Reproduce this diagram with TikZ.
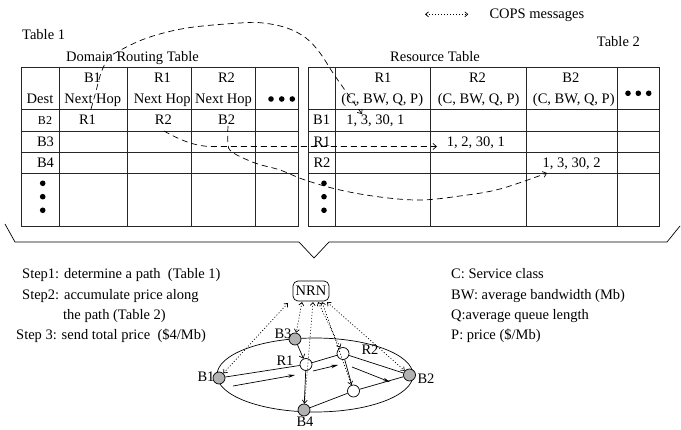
\documentclass[tikz,border=0pt]{standalone}
\usepackage{fontspec}
\setmainfont{Liberation Serif}
\usetikzlibrary{arrows.meta}
\begin{document}
\begin{tikzpicture}[x=1pt,y=-1pt,
  every node/.style={font=\fontsize{14.5}{17}\selectfont, inner sep=0pt},
  txt/.style={anchor=base},
  tbl/.style={line width=0.8pt, draw=black!85},
  bigdot/.style={circle, fill=black, minimum size=5.6pt, inner sep=0pt},
  gnode/.style={circle, draw, fill=gray!60, minimum size=12pt, inner sep=0pt, line width=0.7pt},
  wnode/.style={circle, draw, fill=white, minimum size=12pt, inner sep=0pt, line width=0.7pt},
  link/.style={line width=0.7pt},
  flow/.style={line width=0.7pt, -{Stealth[length=7pt,width=3.5pt]}},
  cops/.style={line width=0.7pt, dash pattern=on 1pt off 2pt, {Straight Barb[length=3pt,width=5pt]}-{Straight Barb[length=3pt,width=5pt]}},
  dpath/.style={line width=0.7pt, dash pattern=on 6pt off 4pt, -{Straight Barb[length=3.5pt,width=6pt]}},
]
\useasboundingbox (0,0) rectangle (681,430);

% ---------- legend ----------
\coordinate (cl) at (425,14.3);
\coordinate (cr) at (468.3,14.3);
\draw[cops] (cl) -- (cr);
\node[txt, anchor=base west] (copsl) at (489.3,19) {COPS messages};

% ---------- table 1 ----------
\node[txt, anchor=base west] (tab1) at (22,40) {Table 1};
\node[txt] (drt) at (132.5,62) {Domain Routing Table};
\draw[tbl] (21.7,67) rectangle (298,226.5);
\foreach \x in {59,127.3,191.7,255.7} \draw[tbl] (\x,67) -- (\x,226.5);
\foreach \y in {109.5,131,152.5,173.3} \draw[tbl] (21.7,\y) -- (298,\y);
\node[txt] (ha) at (92.5,83) {B1};
\node[txt] (hb) at (162.5,83) {R1};
\node[txt] (hc) at (226.5,83) {R2};
\node[txt] (dest) at (40,104) {Dest};
\node[txt] (nha) at (92.8,104) {Next Hop};
\node[txt] (nhb) at (162.2,104) {Next Hop};
\node[txt] (nhc) at (223.5,104) {Next Hop};
\foreach \x [count=\i] in {271,281.7,292.3} \node[bigdot] (hd\i) at (\x,99) {};
\node[txt, font=\fontsize{12}{14}\selectfont] (rb2) at (45,125) {B2};
\node[txt] (rb3) at (45.5,146.5) {B3};
\node[txt] (rb4) at (45.5,168) {B4};
\foreach \y [count=\i] in {183.3,196.7,210.3} \node[bigdot] (vd\i) at (42.7,\y) {};
\node[txt] (va) at (87.5,125) {R1};
\node[txt] (vb) at (163.3,125) {R2};
\node[txt] (vc) at (226.7,125) {B2};

% ---------- table 2 ----------
\node[txt] (rt) at (435,62) {Resource Table};
\node[txt, anchor=base east] (tab2) at (640,46.5) {Table 2};
\draw[tbl] (308.3,67) rectangle (659.3,226.5);
\foreach \x in {335.7,430.7,526.7,617.3} \draw[tbl] (\x,67) -- (\x,226.5);
\foreach \y in {109.5,131,152.5,173.3} \draw[tbl] (308.3,\y) -- (659.3,\y);
\node[txt] (ka) at (383,83) {R1};
\node[txt] (kb) at (477.5,83) {R2};
\node[txt] (kc) at (570.8,83) {B2};
\node[txt] (ta) at (382.3,104) {(C, BW, Q, P)};
\node[txt] (tb) at (478.7,104) {(C, BW, Q, P)};
\node[txt] (tc) at (573.8,104) {(C, BW, Q, P)};
\foreach \x [count=\i] in {628,638.3,648.7} \node[bigdot] (kd\i) at (\x,93.3) {};
\node[txt] (sb1) at (321.7,125) {B1};
\node[txt] (sr1) at (322,146.5) {R1};
\node[txt] (sr2) at (322,168) {R2};
\foreach \y [count=\i] in {183.3,196.7,210.3} \node[bigdot] (wd\i) at (324,\y) {};
\node[txt] (ua) at (375.3,125) {1, 3, 30, 1};
\node[txt] (ub) at (475.8,146.5) {1, 2, 30, 1};
\node[txt] (uc) at (571.7,168) {1, 3, 30, 2};

% ---------- dashed lookup paths ----------
\draw[dpath] plot[smooth, tension=0.6] coordinates {(91,109) (95,95) (101,73) (108,59) (117,52) (147,38) (187,28) (240,23) (263,23) (287,28) (306,38) (320,53) (333,73) (347,93) (362,114)};
\draw[dpath] (164,131) .. controls (180,140) and (195,146.5) .. (212,146.5) -- (437,146.5);
\draw[dpath] plot[smooth, tension=0.6] coordinates {(228,126) (228,143) (232,152) (255,163) (280,170) (305,180) (340,190) (380,197) (420,200) (460,196) (500,189) (547,173)};

% ---------- bracket ----------
\draw[line width=0.7pt] (5,224) -- (15,242) -- (299,242) -- (314,258) -- (329,242) -- (667,242) -- (680,226);

% ---------- steps & legend text ----------
\node[txt, anchor=base west] (s1) at (22,279) {Step1: determine a path\ \ (Table 1)};
\node[txt, anchor=base west] (s2) at (22,299.5) {Step2: accumulate price along};
\node[txt, anchor=base west] (s2b) at (63,320) {the path (Table 2)};
\node[txt, anchor=base west] (s3) at (16,340) {Step 3: send total price\ \ (\$4/Mb)};
\node[txt, anchor=base west] (l1) at (451,279) {C: Service class};
\node[txt, anchor=base west] (l2) at (451,299.5) {BW: average bandwidth (Mb)};
\node[txt, anchor=base west] (l3) at (451,320) {Q:average queue length};
\node[txt, anchor=base west] (l4) at (451,340) {P: price (\$/Mb)};

% ---------- network ----------
\draw[line width=0.7pt] (315,375) ellipse [x radius=98pt, y radius=37pt];
\node[draw, rounded corners=5pt, minimum width=36pt, minimum height=20pt, line width=0.7pt, fill=white] (nrn) at (311,291) {NRN};
\node[gnode] (B1) at (219,378) {};
\node[gnode] (B2) at (409.5,375) {};
\node[gnode] (B3) at (295,339) {};
\node[gnode] (B4) at (304,410) {};
\node[wnode] (R1) at (306,364.5) {};
\node[wnode] (R2) at (343,353.5) {};
\node[wnode] (R3) at (353.5,391) {};
\node (lB1) at (206,377) {B1};
\node (lB2) at (426,379) {B2};
\node (lB3) at (283,334) {B3};
\node (lB4) at (305,422) {B4};
\node (lR1) at (285,360.5) {R1};
\node (lR2) at (370,350) {R2};

\draw[link] (B1) -- (R1);
\draw[link] (R1) -- (R2);
\draw[link] (R2) -- (B2);
\draw[link] (R1) -- (B4);
\draw[link] (R2) -- (R3);
\draw[link] (B4) -- (R3);
\draw[link] (R3) -- (B2);
\draw[link, -{Straight Barb[length=3.5pt,width=6pt]}] (B3) -- (R1);

\coordinate (f1a) at (233,386); \coordinate (f1b) at (295,375);
\coordinate (f2a) at (313,371); \coordinate (f2b) at (338,365);
\coordinate (f3a) at (352,367); \coordinate (f3b) at (390,382);
\draw[flow] (f1a) -- (f1b);
\draw[flow] (f2a) -- (f2b);
\draw[flow] (f3a) -- (f3b);

\coordinate (n1) at (288,303);
\coordinate (n2) at (302,302);
\coordinate (n3) at (313,302);
\coordinate (n4) at (318,302);
\coordinate (n5) at (322,302);
\coordinate (n6) at (327,302);
\draw[cops] (n1) -- (B1);
\draw[cops] (n2) -- (B3);
\draw[cops] (n3) -- (B4);
\draw[cops] (n4) -- (R2);
\draw[cops] (n5) -- (R3);
\draw[cops] (n6) -- (B2);
\end{tikzpicture}
\end{document}
